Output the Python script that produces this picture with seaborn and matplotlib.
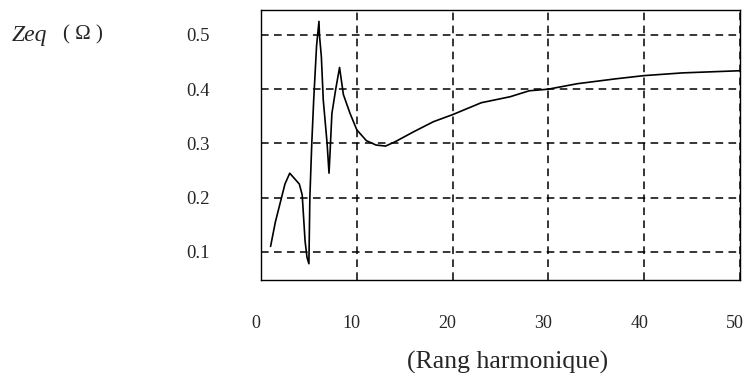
import matplotlib
matplotlib.use("Agg")
import matplotlib.pyplot as plt
import matplotlib.transforms as mtransforms
import seaborn as sns
import pandas as pd

# Data
rang = [1, 1.5, 2, 2.5, 3, 3.5, 4, 4.3, 4.6, 4.8, 5.0, 5.1, 5.3, 5.5, 5.8, 6.05, 6.1, 6.3, 6.5,
        6.9, 7.1, 7.2, 7.4, 7.8, 8.2, 8.6, 9.3, 10, 11, 12, 13, 14, 16, 18, 20, 23, 26, 28, 30,
        33, 37, 40, 44, 50]
zeq = [0.11, 0.155, 0.19, 0.225, 0.245, 0.235, 0.225, 0.205, 0.12, 0.09, 0.078, 0.20, 0.30, 0.38,
       0.48, 0.525, 0.50, 0.46, 0.38, 0.30, 0.245, 0.28, 0.355, 0.40, 0.44, 0.39, 0.355, 0.325,
       0.305, 0.297, 0.295, 0.303, 0.322, 0.34, 0.353, 0.375, 0.386, 0.397, 0.40, 0.41, 0.419,
       0.425, 0.43, 0.434]
xticks = [0, 10, 20, 30, 40, 50]
yticks = [0.1, 0.2, 0.3, 0.4, 0.5]

sns.set_style("white")
plt.rcParams['font.family'] = ['Liberation Serif', 'DejaVu Serif']

df = pd.DataFrame({"rang": rang, "zeq": zeq})

fig = plt.figure(figsize=(7.47, 3.8), dpi=100)
ax = fig.add_axes([261/747, 1-280/380, (740-261)/747, (280-10)/380])
sns.lineplot(data=df, x="rang", y="zeq", color="black", lw=1.2, ax=ax)

ax.set_xlim(0, 50)
ax.set_ylim(0.048, 0.546)
ax.set_xticks(xticks)
ax.set_yticks(yticks)
ax.set_xticklabels([str(t) for t in xticks])
ax.set_yticklabels([f"{t:.1f}" for t in yticks])
ax.tick_params(axis='x', direction='in', length=5, pad=25, labelsize=13, width=1, color='black')
ax.tick_params(axis='y', direction='in', length=0, pad=37, labelsize=13.5)
shift = mtransforms.ScaledTranslation(-5/100, 0, fig.dpi_scale_trans)
for lab in ax.get_xticklabels():
    lab.set_transform(lab.get_transform() + shift)
ax.set_xlabel("")
ax.set_ylabel("")
for s in ax.spines.values():
    s.set_color("black")
    s.set_linewidth(1.0)
ax.grid(True, color="black", linestyle=(0, (5, 3.5)), linewidth=1.1)

fig.text(12/747, 1-35/380, "Zeq", fontsize=17, style='italic', va='center', ha='left')
fig.text(63/747, 1-35/380, "( Ω )", fontsize=15, va='center', ha='left')
fig.text(508/747, 1-362/380, "(Rang harmonique)", fontsize=18.5, va='center', ha='center')

fig.savefig("out.png", dpi=100)
